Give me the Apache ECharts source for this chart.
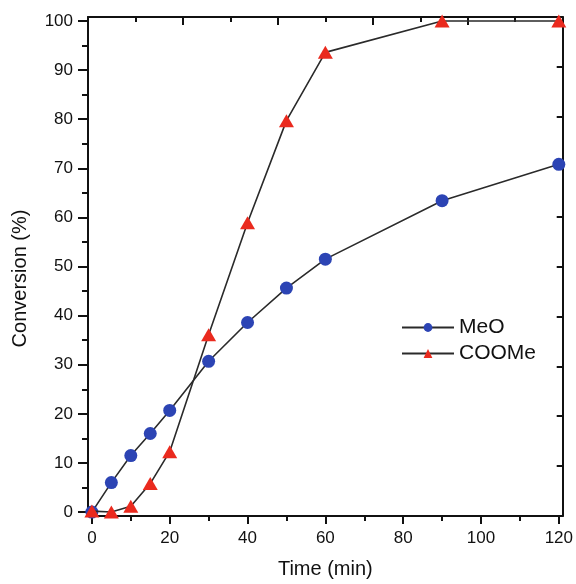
<!DOCTYPE html>
<html>
<head>
<meta charset="utf-8">
<script src="https://cdn.jsdelivr.net/npm/echarts@6/dist/echarts.min.js"></script>
<style>
html,body{margin:0;padding:0;background:#fff;}
#chart{width:576px;height:584px;}
</style>
</head>
<body>
<div id="chart"></div>
<script>
// ---- data ----
var timeMin = [0, 5, 10, 15, 20, 30, 40, 50, 60, 90, 120];
var meoConversion = [0.0, 6.0, 11.5, 16.0, 20.7, 30.7, 38.6, 45.6, 51.5, 63.4, 70.8];
var coomeConversion = [0.2, 0.0, 1.2, 5.8, 12.3, 36.1, 58.9, 79.7, 93.6, 100, 100];
var xTickLabels = [0, 20, 40, 60, 80, 100, 120];
var xMinorTicks = [10, 30, 50, 70, 90, 110];
var yTickLabels = [0, 10, 20, 30, 40, 50, 60, 70, 80, 90, 100];
var yMinorTicks = [5, 15, 25, 35, 45, 55, 65, 75, 85, 95];
var topMajorTicks = [2, 4, 6, 8];
var topMinorTicks = [1, 3, 5, 7, 9];
var rightTicks = [1, 2, 3, 4, 5, 6, 7, 8, 9];

function pairs(xs, ys) { return xs.map(function (x, i) { return [x, ys[i]]; }); }

var FONT = "'Liberation Sans', Arial, sans-serif";
var INK = '#111111';
var X_MIN = -1, X_MAX = 121, Y_MIN = -0.8, Y_MAX = 100.8;

var chart = echarts.init(document.getElementById('chart'), null, {renderer: 'canvas'});
chart.setOption({
  backgroundColor: '#ffffff',
  animation: false,
  textStyle: {fontFamily: FONT, color: INK},
  grid: {left: 88, top: 17, right: 12, bottom: 67, containLabel: false},
  legend: {
    orient: 'vertical',
    left: 396,
    top: 312,
    itemWidth: 52,
    itemHeight: 11,
    itemGap: 5,
    textStyle: {fontFamily: FONT, fontSize: 21, color: INK},
    data: ['MeO', 'COOMe']
  },
  xAxis: [
    {
      type: 'value', position: 'bottom', min: X_MIN, max: X_MAX,
      name: 'Time (min)', nameLocation: 'middle', nameGap: 43,
      nameTextStyle: {fontFamily: FONT, fontSize: 20, color: INK},
      axisLine: {show: true, onZero: false, lineStyle: {color: INK, width: 2}},
      axisTick: {show: true, inside: false, length: 8, lineStyle: {color: INK, width: 2}, customValues: xTickLabels},
      axisLabel: {show: true, margin: 14, fontSize: 17, fontFamily: FONT, color: INK, customValues: xTickLabels},
      splitLine: {show: false}
    },
    {
      type: 'value', position: 'bottom', min: X_MIN, max: X_MAX,
      axisLine: {show: false, onZero: false},
      axisTick: {show: true, inside: false, length: 5, lineStyle: {color: INK, width: 2}, customValues: xMinorTicks},
      axisLabel: {show: false},
      splitLine: {show: false}
    },
    {
      type: 'value', position: 'top', min: 0, max: 10,
      axisLine: {show: true, onZero: false, lineStyle: {color: INK, width: 2}},
      axisTick: {show: true, inside: true, length: 8, lineStyle: {color: INK, width: 2}, customValues: topMajorTicks},
      axisLabel: {show: false},
      splitLine: {show: false}
    },
    {
      type: 'value', position: 'top', min: 0, max: 10,
      axisLine: {show: false, onZero: false},
      axisTick: {show: true, inside: true, length: 5, lineStyle: {color: INK, width: 2}, customValues: topMinorTicks},
      axisLabel: {show: false},
      splitLine: {show: false}
    }
  ],
  yAxis: [
    {
      type: 'value', position: 'left', min: Y_MIN, max: Y_MAX,
      name: 'Conversion (%)', nameLocation: 'middle', nameGap: 58, nameRotate: 90,
      nameTextStyle: {fontFamily: FONT, fontSize: 20, color: INK, padding: [0, 24, 0, 0]},
      axisLine: {show: true, onZero: false, lineStyle: {color: INK, width: 2}},
      axisTick: {show: true, inside: false, length: 10, lineStyle: {color: INK, width: 2}, customValues: yTickLabels},
      axisLabel: {show: true, margin: 15, fontSize: 17, fontFamily: FONT, color: INK, customValues: yTickLabels},
      splitLine: {show: false}
    },
    {
      type: 'value', position: 'left', min: Y_MIN, max: Y_MAX,
      axisLine: {show: false, onZero: false},
      axisTick: {show: true, inside: false, length: 6, lineStyle: {color: INK, width: 2}, customValues: yMinorTicks},
      axisLabel: {show: false},
      splitLine: {show: false}
    },
    {
      type: 'value', position: 'right', min: 0, max: 10,
      axisLine: {show: true, onZero: false, lineStyle: {color: INK, width: 2}},
      axisTick: {show: true, inside: true, length: 6, lineStyle: {color: INK, width: 2}, customValues: rightTicks},
      axisLabel: {show: false},
      splitLine: {show: false}
    }
  ],
  series: [
    {
      name: 'MeO', type: 'line', xAxisIndex: 0, yAxisIndex: 0,
      data: pairs(timeMin, meoConversion),
      symbol: 'circle', symbolSize: 13,
      itemStyle: {color: '#2c44b4'},
      lineStyle: {color: '#2a2a2a', width: 1.6},
      z: 2
    },
    {
      name: 'COOMe', type: 'line', xAxisIndex: 0, yAxisIndex: 0,
      data: pairs(timeMin, coomeConversion),
      symbol: 'triangle', symbolSize: [15, 13],
      itemStyle: {color: '#ea2a1e'},
      lineStyle: {color: '#2a2a2a', width: 1.6},
      z: 3
    }
  ]
});
</script>
</body>
</html>
